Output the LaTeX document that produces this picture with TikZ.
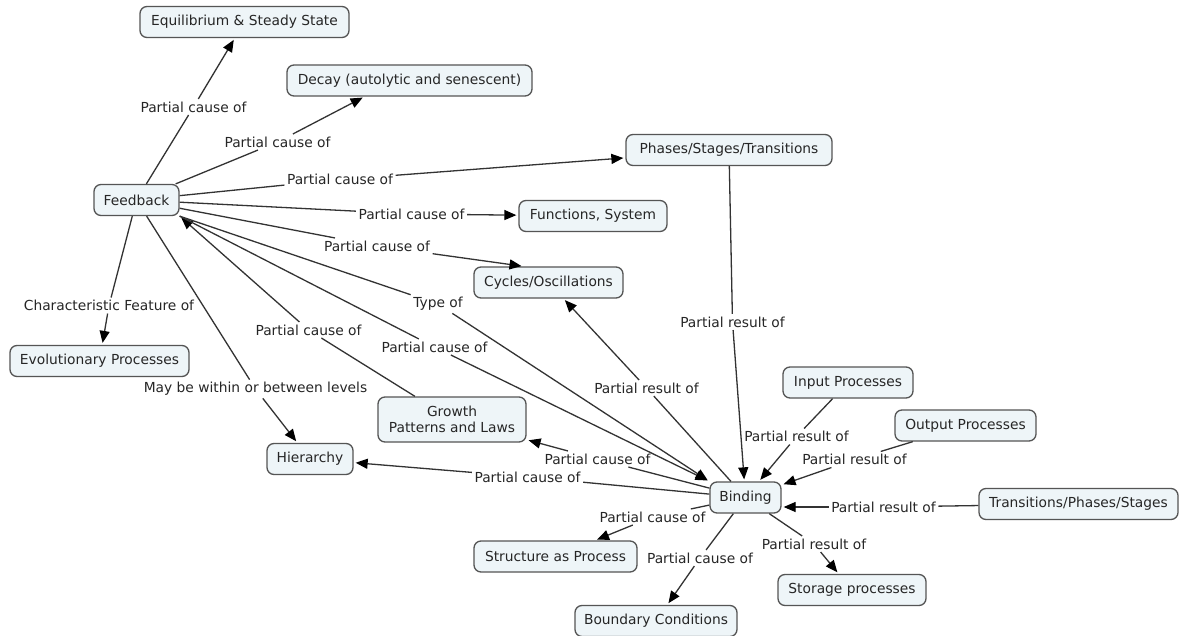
\documentclass[tikz,border=0pt]{standalone}
\usepackage{fontspec}
\setmainfont{DejaVu Sans}
\usetikzlibrary{arrows.meta}
\definecolor{boxfill}{HTML}{EEF5F8}
\definecolor{boxline}{HTML}{555555}
\definecolor{linkcol}{HTML}{333333}
\definecolor{txt}{HTML}{262626}
\begin{document}
\begin{tikzpicture}[x=1pt,y=-1pt,
  font=\fontsize{13.8}{16}\selectfont, text=txt,
  concept/.style={draw=boxline, fill=boxfill, line width=1.3pt, rounded corners=7pt,
    minimum height=31pt, inner sep=0pt, align=center},
  lab/.style={inner sep=2.5pt},
  link/.style={draw=linkcol, line width=1.3pt},
  arr/.style={link, -{Triangle[length=12pt,width=10pt,color=black]}, shorten >=2pt}]
\useasboundingbox[fill=white] (0,0) rectangle (1180,636);

% concepts
\node[concept, minimum width=209pt] (eq) at (244.5,22) {Equilibrium \& Steady State};
\node[concept, minimum width=245pt] (decay) at (409.5,80.5) {Decay (autolytic and senescent)};
\node[concept, minimum width=206pt] (phases) at (729,150) {Phases/Stages/Transitions};
\node[concept, minimum width=85pt] (fb) at (136.5,200) {Feedback};
\node[concept, minimum width=148pt] (func) at (593,216) {Functions, System};
\node[concept, minimum width=149pt] (cyc) at (548.5,282.5) {Cycles/Oscillations};
\node[concept, minimum width=179pt] (evo) at (99.5,361) {Evolutionary Processes};
\node[concept, minimum width=130pt] (input) at (848,382.5) {Input Processes};
\node[concept, minimum width=141pt] (output) at (965.5,425.5) {Output Processes};
\node[concept, minimum width=148pt, minimum height=45pt] (growth) at (452,419.5) {Growth\\Patterns and Laws};
\node[concept, minimum width=86pt] (hier) at (310,459) {Hierarchy};
\node[concept, minimum width=71pt] (bind) at (745.5,497.5) {Binding};
\node[concept, minimum width=199pt] (trans) at (1078.5,504) {Transitions/Phases/Stages};
\node[concept, minimum width=163pt] (struct) at (555.5,556.5) {Structure as Process};
\node[concept, minimum width=148pt] (storage) at (852,590) {Storage processes};
\node[concept, minimum width=162pt] (bound) at (656,621) {Boundary Conditions};

% linking phrases
\node[lab] (l1) at (193.5,107) {Partial cause of};
\node[lab] (l2) at (277.5,142) {Partial cause of};
\node[lab] (l3) at (340,179.5) {Partial cause of};
\node[lab] (l4) at (411.5,214) {Partial cause of};
\node[lab] (l5) at (377,246) {Partial cause of};
\node[lab] (l6) at (109,305.5) {Characteristic Feature of};
\node[lab] (l7) at (255.5,389) {May be within or between levels};
\node[lab] (l8) at (308.5,330) {Partial cause of};
\node[lab] (l9) at (434.5,347) {Partial cause of};
\node[lab] (l10) at (438,304) {Type of};
\node[lab] (l11) at (646.5,388) {Partial result of};
\node[lab] (l12) at (732.5,322) {Partial result of};
\node[lab] (l13) at (796.5,436.5) {Partial result of};
\node[lab] (l14) at (854.5,459.5) {Partial result of};
\node[lab] (l15) at (883.5,507) {Partial result of};
\node[lab] (l16) at (597.5,459) {Partial cause of};
\node[lab] (l17) at (527.5,477) {Partial cause of};
\node[lab] (l18) at (652.5,517) {Partial cause of};
\node[lab] (l19) at (700,558) {Partial cause of};
\node[lab] (l20) at (814,544) {Partial result of};

% Feedback links
\draw[link] (fb) -- (l1);  \draw[arr] (l1) -- (eq);
\draw[link] (fb) -- (l2);  \draw[arr] (l2) -- ([xshift=-45pt]decay.south);
\draw[link] (fb) -- (l3);  \draw[arr] (l3) -- (phases);
\draw[link] (fb) -- (l4);  \draw[arr] (l4) -- (func);
\draw[link] (fb) -- (l5);  \draw[arr] (l5) -- ([xshift=-25pt]cyc.north);
\draw[link] (fb) -- (l6);  \draw[arr] (l6) -- (evo);
\draw[link] (fb) -- (l7);  \draw[arr] (l7) -- (hier);
\draw[link] (growth) -- (l8); \draw[arr] (l8) -- (fb.south east);
\draw[link] (fb.south east) -- (l9);  \draw[arr] (l9) -- (bind.north west);
\draw[link] (fb.south east) -- (l10); \draw[arr] (l10) -- (bind.north west);

% Binding links
\draw[link] (bind) -- (l11); \draw[arr] (l11) -- (cyc);
\draw[link] (phases) -- (l12); \draw[arr] (l12) -- (bind);
\draw[link] (input) -- (l13); \draw[arr] (l13) -- (bind);
\draw[link] (output) -- (l14); \draw[arr] (l14) -- (bind);
\draw[link] (trans) -- (l15); \draw[arr] (l15) -- (l15 -| bind.east);
\draw[link] (bind) -- (l16); \draw[arr] (l16) -- (growth);
\draw[link] (bind) -- (l17); \draw[arr] (l17) -- (hier);
\draw[link] (bind) -- (l18); \draw[arr] (l18) -- (struct);
\draw[link] (bind) -- (l19); \draw[arr] (l19) -- (bound);
\draw[link] (bind) -- (l20); \draw[arr] (l20) -- (storage);
\end{tikzpicture}
\end{document}
